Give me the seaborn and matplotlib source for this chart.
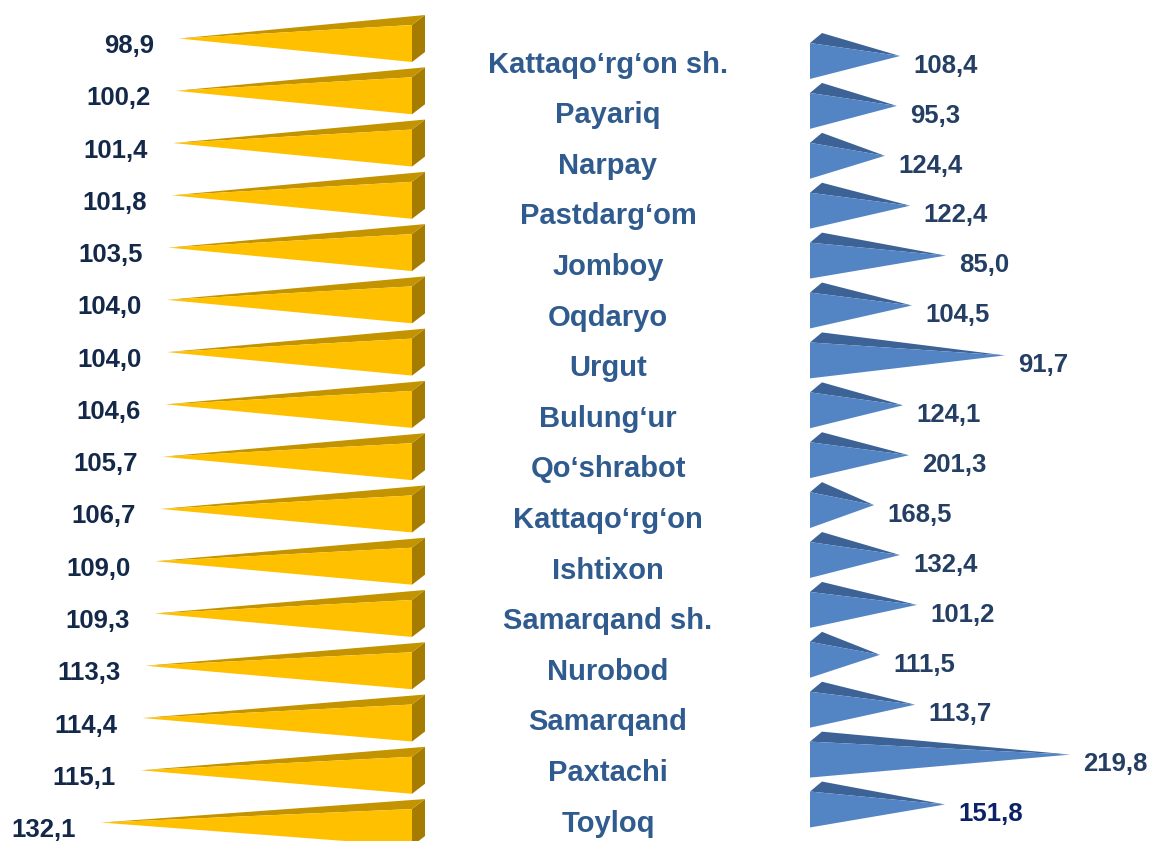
import numpy as np
import pandas as pd
import matplotlib
matplotlib.use("Agg")
import matplotlib.pyplot as plt
from matplotlib.patches import Polygon
import seaborn as sns

# --- datos ---
districts = ["Kattaqo‘rg‘on sh.", "Payariq", "Narpay", "Pastdarg‘om", "Jomboy",
             "Oqdaryo", "Urgut", "Bulung‘ur", "Qo‘shrabot", "Kattaqo‘rg‘on",
             "Ishtixon", "Samarqand sh.", "Nurobod", "Samarqand", "Paxtachi", "Toyloq"]
left_vals = [98.9, 100.2, 101.4, 101.8, 103.5, 104.0, 104.0, 104.6,
             105.7, 106.7, 109.0, 109.3, 113.3, 114.4, 115.1, 132.1]
right_vals = [108.4, 95.3, 124.4, 122.4, 85.0, 104.5, 91.7, 124.1,
              201.3, 168.5, 132.4, 101.2, 111.5, 113.7, 219.8, 151.8]
# length of the blue wedges as drawn (same units as left scale)
right_bar = [38.2, 36.9, 31.8, 42.5, 57.7, 43.3, 82.8, 39.5,
             42.0, 27.2, 38.2, 45.4, 29.7, 44.6, 110.4, 57.3]

W, H = 1152, 841
PX = 2.355  # pixels per unit

gold, gold_top, gold_side = "#FFC000", "#C39300", "#A67C00"
blue, blue_top = "#5384C4", "#3D6396"
navy = "#14294A"
lab_blue = "#2F5B8E"
rlab = "#243F63"

sns.set_theme(style="white")
plt.rcParams["font.family"] = ["Liberation Sans", "DejaVu Sans"]

df = pd.DataFrame({"name": districts, "left": left_vals,
                   "right": right_bar, "rv": right_vals})

fig = plt.figure(figsize=(W / 100, H / 100), dpi=100)


def fmt(v):
    return f"{v:.1f}".replace(".", ",")


def add_poly(ax, pts_disp, color):
    pts = ax.transData.inverted().transform(np.array(pts_disp))
    ax.add_patch(Polygon(pts, closed=True, facecolor=color, edgecolor="none",
                         clip_on=False, zorder=3))


def pyramids(ax, side, dx, dy):
    for p in list(ax.patches):
        x0 = p.get_x()
        w = p.get_width()
        y0, h = p.get_y(), p.get_height()
        yc = y0 + h / 2
        base = ax.transData.transform([(x0, y0), (x0, y0 + h)])
        tip = ax.transData.transform([(x0 + w, yc)])[0]
        bx = base[0][0]
        bot, top = sorted([base[0][1], base[1][1]])
        c = (top + bot) / 2
        apex = (tip[0], c + dy / 2)
        p.set_visible(False)
        if side == "left":
            add_poly(ax, [(bx, top), (bx + dx, top + dy), (bx + dx, bot + dy), (bx, bot)], gold_side)
            add_poly(ax, [apex, (bx, top), (bx + dx, top + dy)], gold_top)
            add_poly(ax, [apex, (bx, top), (bx, bot)], gold)
        else:
            add_poly(ax, [apex, (bx, top), (bx + dx, top + dy)], blue_top)
            add_poly(ax, [apex, (bx, top), (bx, bot)], blue)


# --- lado izquierdo (amarillo) ---
lt, lsp = 17.37, 52.27
axL = fig.add_axes([0, (H - lt - 16 * lsp) / H, 412 / W, 16 * lsp / H])
sns.barplot(data=df, x="left", y="name", orient="h", width=0.708,
            color=gold, errorbar=None, ax=axL)
axL.set_xlim(412 / PX, 0)
axL.set_ylim(15.5, -0.5)
axL.set_axis_off()
pyramids(axL, "left", 13, 10)
for i, v in enumerate(left_vals):
    axL.annotate(fmt(v), xy=(v, i), xytext=(-25, -9.5), textcoords="offset pixels",
                 ha="right", va="baseline", fontsize=18.5, fontweight="bold",
                 color=navy, annotation_clip=False)

# --- lado derecho (azul) ---
rt, rsp = 36.05, 49.9
axR = fig.add_axes([810 / W, (H - rt - 16 * rsp) / H, (W - 810) / W, 16 * rsp / H])
sns.barplot(data=df, x="right", y="name", orient="h", width=0.72,
            color=blue, errorbar=None, ax=axR)
axR.set_xlim(0, (W - 810) / PX)
axR.set_ylim(15.5, -0.5)
axR.set_axis_off()
pyramids(axR, "right", 12, 10)
for i, (b, v) in enumerate(zip(right_bar, right_vals)):
    col = "#0B2366" if i == len(right_vals) - 1 else rlab
    axR.annotate(fmt(v), xy=(b, i), xytext=(13, -11.7), textcoords="offset pixels",
                 ha="left", va="baseline", fontsize=18.5, fontweight="bold",
                 color=col, annotation_clip=False)

# --- nombres en el centro ---
mt, msp = 47.4, 50.6
axM = fig.add_axes([448 / W, (H - mt - 16 * msp) / H, 320 / W, 16 * msp / H])
axM.set_xlim(0, 1)
axM.set_ylim(15.5, -0.5)
axM.set_axis_off()
for i, name in enumerate(districts):
    axM.text(0.5, i, name, ha="center", va="baseline", fontsize=21,
             fontweight="bold", color=lab_blue)

fig.savefig("out.png", dpi=100)
